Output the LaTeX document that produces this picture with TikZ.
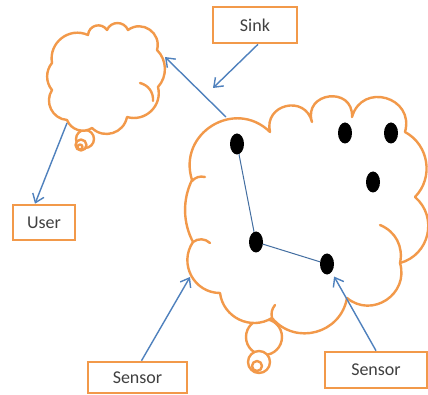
\documentclass[tikz,border=0pt]{standalone}
\usepackage{fontspec}
\setmainfont{Carlito}
\usetikzlibrary{arrows.meta,positioning,calc,shapes.geometric}
\definecolor{CloudOrange}{RGB}{242,153,74}
\definecolor{LinkBlue}{RGB}{79,129,189}
\definecolor{TextGray}{RGB}{64,64,64}

\begin{document}
\begin{tikzpicture}[x=1pt,y=-1pt,
  cloudline/.style={CloudOrange,line width=2.4pt,line join=round,line cap=round},
  puff/.style args={#1/#2}{bend left=#1,looseness=#2},
  tagbox/.style={draw=CloudOrange,line width=2.6pt,fill=white,text=TextGray,
    font=\fontsize{18}{20}\selectfont,inner sep=0pt},
  link/.style={LinkBlue,line width=1.4pt,-{Straight Barb[length=8pt,width=12pt]}},
  sensordot/.style={ellipse,fill=black,inner sep=0pt,minimum width=14pt,minimum height=21pt},
  hop/.style={LinkBlue!85!black,line width=1pt}]
  \fill[white] (0,0) rectangle (428,395);
  \useasboundingbox (0,0) rectangle (428,395);

  % small cloud and its tail
  \draw[cloudline,fill=white] (85,139) circle (9);
  \draw[cloudline,fill=white] (81,145) circle (5.5);
  \draw[cloudline] (80,147) circle (2.5);
  \draw[cloudline,fill=white] (52,63) to[puff=62/1.16] (88,35) to[puff=71/1.29] (107,30)
    to[puff=67/1.23] (128,30) to[puff=71/1.29] (157,50) to[puff=44/0.98] (158,87)
    to[puff=60/1.14] (127,117) to[puff=62/1.16] (92,128) to[puff=51/1.03] (67,120)
    to[puff=59/1.12] (52,90) to[puff=40/0.96] (52,63) -- cycle;
  \draw[cloudline] (140,83) to[bend left=40] (153,101);

  % big cloud and its tail
  \draw[cloudline,fill=white] (264,337) circle (18);
  \draw[cloudline,fill=white] (259,362) circle (11);
  \draw[cloudline] (257,366) circle (5);
  \draw[cloudline,fill=white] (192,180) to[puff=76/1.37] (270,132) to[puff=90/1.7] (312,122)
    to[puff=100/2] (352,117) to[puff=90/1.7] (405,132) to[puff=53/1.06] (415,197)
    to[puff=62/1.16] (400,263) to[puff=73/1.31] (347,298) to[puff=65/1.2] (272,318)
    to[puff=57/1.1] (220,293) to[puff=62/1.16] (193,242) to[puff=27/0.9] (192,180) -- cycle;
  \draw[cloudline] (380,225) to[bend left=40] (400,263);
  \draw[cloudline] (192,181) to[bend left=30] (205,177);
  \draw[cloudline] (193,242) to[bend left=40] (210,243);
  \draw[cloudline] (272,318) to[bend left=25] (275,305);

  \foreach \n/\x/\y in {1/237/144,2/345/133,3/391/133,4/373/182,5/256/242,6/327/264}
    \node[sensordot] (d\n) at (\x,\y) {};
  \draw[hop] (d1) -- (d5) -- (d6);

  \node[tagbox,minimum width=84pt,minimum height=36pt] (sink) at (255,25) {Sink};
  \node[tagbox,minimum width=62pt,minimum height=35pt] (user) at (44,222.5) {User};
  \node[tagbox,minimum width=99pt,minimum height=31pt] (sensorA) at (137.5,377.5) {Sensor};
  \node[tagbox,minimum width=102pt,minimum height=36pt] (sensorB) at (376,370) {Sensor};

  \coordinate (smallside) at (165,57);
  \coordinate (bigside) at (226,117);
  \coordinate (linkmid) at (213,88);
  \coordinate (smallfoot) at (67,123);
  \coordinate (bigfoot) at (190,277);
  \draw[link] (bigside) -- (smallside);
  \draw[link] ([xshift=3pt]sink.south) -- (linkmid);
  \draw[link] (smallfoot) -- ([xshift=-9pt]user.north);
  \draw[link] ([xshift=4pt]sensorA.north) -- (bigfoot);
  \draw[link,shorten >=5pt] (sensorB.north) -- (d6);
\end{tikzpicture}
\end{document}
